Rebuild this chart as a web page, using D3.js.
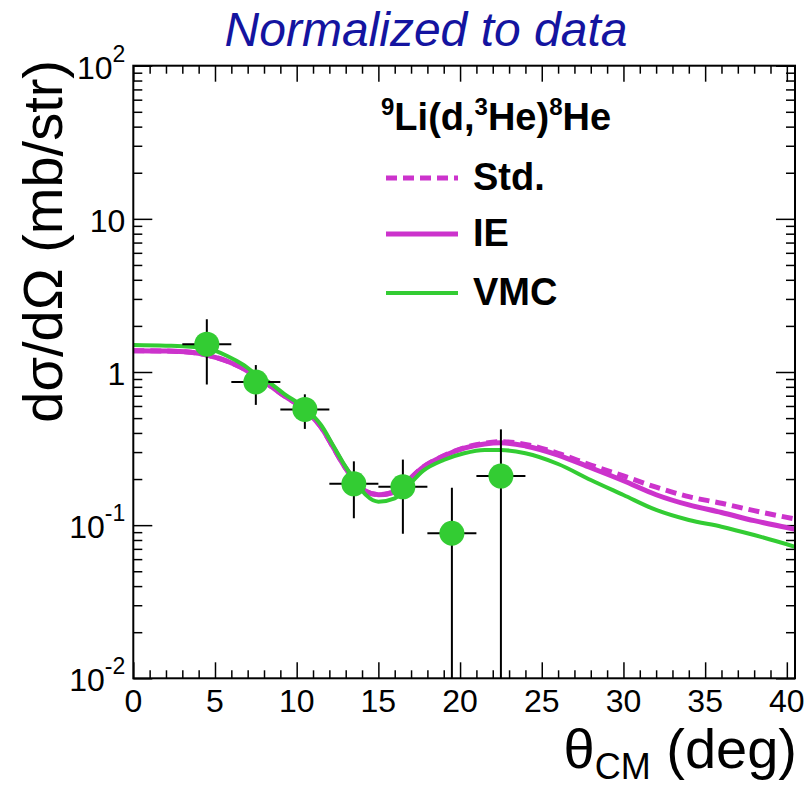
<!DOCTYPE html>
<html>
<head>
<meta charset="utf-8">
<script src="https://cdn.jsdelivr.net/npm/d3@7"></script>
<style>
  body { margin: 0; background: #fff; }
  svg text { font-family: "Liberation Sans", Arial, sans-serif; }
</style>
</head>
<body>
<svg id="chart" width="809" height="786"></svg>
<script>
// measured points (theta_cm in deg, cross section in mb/str)
var thetaData = [4.5, 7.5, 10.5, 13.5, 16.5, 19.5, 22.5];
var xsData    = [1.52, 0.86, 0.57, 0.186, 0.178, 0.0885, 0.209];
var xsErr     = [0.69, 0.25, 0.145, 0.075, 0.09, 0.087, 0.213];
var thetaErr  = [1.5, 1.5, 1.5, 1.5, 1.5, 1.5, 1.5];

// calculated curves
var thetaCurve = [0, 2, 3.5, 4.5, 5.75, 6.75, 7.5, 8.25, 9.25, 10.5, 11.5, 12.25, 13, 13.75, 14.25, 15,
                  16, 16.5, 17.75, 19, 20.25, 21.5, 22.5, 24, 26, 28, 30, 32, 34, 36, 38, 40.5];
var stdCurve = [1.378, 1.371, 1.345, 1.29, 1.175, 1.05, 0.93, 0.83, 0.697, 0.565, 0.435, 0.32, 0.235, 0.187, 0.166, 0.158,
                0.165, 0.182, 0.24, 0.284, 0.320, 0.343, 0.351, 0.337, 0.2945, 0.247, 0.2094, 0.177, 0.1534, 0.139, 0.1243, 0.1097];
var ieCurve  = [1.378, 1.371, 1.345, 1.29, 1.175, 1.05, 0.93, 0.83, 0.697, 0.565, 0.435, 0.32, 0.235, 0.187, 0.166, 0.158,
                0.165, 0.182, 0.24, 0.283, 0.318, 0.339, 0.345, 0.329, 0.287, 0.237, 0.195, 0.158, 0.1355, 0.121, 0.107, 0.094];
var vmcCurve = [1.50, 1.486, 1.464, 1.428, 1.272, 1.111, 0.97, 0.865, 0.718, 0.582, 0.449, 0.329, 0.24, 0.183, 0.157, 0.1424,
                0.1497, 0.166, 0.2268, 0.2663, 0.2945, 0.3095, 0.3095, 0.2945, 0.2507, 0.1972, 0.1573, 0.1256, 0.108, 0.0977, 0.0862, 0.0723];

// axis ticks
var xMajor = [0, 5, 10, 15, 20, 25, 30, 35, 40];
var xMinor = d3.range(0, 41).filter(function(v) { return v % 5 != 0; });
var yMajor = [0.01, 0.1, 1, 10, 100];
var yMinor = [0.01, 0.1, 1, 10].flatMap(function(d) { return [2,3,4,5,6,7,8,9].map(function(k) { return k * d; }); });
var yLabels = [["10", "-2"], ["10", "-1"], ["1", ""], ["10", ""], ["10", "2"]];

var legendItems = ["Std.", "IE", "VMC"];

var magenta = "#cc33cc", green = "#33cc33";

var margin = {top: 65.7, right: 14, bottom: 107.7, left: 133.3},
    width = 809 - margin.left - margin.right,
    height = 786 - margin.top - margin.bottom;

var svg = d3.select("#chart");
var g = svg.append("g").attr("transform", "translate(" + margin.left + "," + margin.top + ")");

var x = d3.scaleLinear().domain([0, 40.5]).range([0, width]);
var y = d3.scaleLog().domain([0.01, 100]).range([height, 0]);

svg.append("defs").append("clipPath").attr("id", "clip")
  .append("rect").attr("width", width).attr("height", height);

// ticks (all pointing inside, ROOT style)
function tickAxis(axisFn, scale, vals, size, transform) {
  var a = g.append("g").attr("transform", transform)
    .call(axisFn(scale).tickValues(vals).tickSize(size).tickFormat(""));
  a.select(".domain").remove();
  a.selectAll("line").attr("stroke", "#000").attr("stroke-width", 1.5);
  return a;
}
tickAxis(d3.axisBottom, x, xMajor, -16, "translate(0," + height + ")");
tickAxis(d3.axisBottom, x, xMinor, -8, "translate(0," + height + ")");
tickAxis(d3.axisTop, x, xMajor, -16, "translate(0,0)");
tickAxis(d3.axisTop, x, xMinor, -8, "translate(0,0)");
tickAxis(d3.axisLeft, y, yMajor, -19, "translate(0,0)");
tickAxis(d3.axisLeft, y, yMinor, -9, "translate(0,0)");
tickAxis(d3.axisRight, y, yMajor, -19, "translate(" + width + ",0)");
tickAxis(d3.axisRight, y, yMinor, -9, "translate(" + width + ",0)");

// x tick labels
g.selectAll(".xlab").data(xMajor).enter().append("text")
  .attr("x", function(d) { return x(d); })
  .attr("y", height + 34)
  .attr("text-anchor", "middle")
  .attr("font-size", 32)
  .text(function(d) { return d; });

// y tick labels with exponents
yMajor.forEach(function(v, i) {
  var t = g.append("text")
    .attr("x", -8).attr("y", y(v) + 13)
    .attr("text-anchor", "end")
    .attr("font-size", 32);
  t.append("tspan").text(yLabels[i][0]);
  if (yLabels[i][1]) {
    t.append("tspan").attr("font-size", 23).attr("dy", -17).text(yLabels[i][1]);
  }
});

// curves
var line = d3.line()
  .x(function(d) { return x(d[0]); })
  .y(function(d) { return y(d[1]); })
  .curve(d3.curveMonotoneX);
var plot = g.append("g").attr("clip-path", "url(#clip)");

plot.append("path").datum(d3.zip(thetaCurve, stdCurve))
  .attr("d", line).attr("fill", "none").attr("stroke", magenta)
  .attr("stroke-width", 5).attr("stroke-dasharray", "11,6");
plot.append("path").datum(d3.zip(thetaCurve, ieCurve))
  .attr("d", line).attr("fill", "none").attr("stroke", magenta).attr("stroke-width", 5);
plot.append("path").datum(d3.zip(thetaCurve, vmcCurve))
  .attr("d", line).attr("fill", "none").attr("stroke", green).attr("stroke-width", 4);

// data with error bars
var pts = d3.range(thetaData.length).map(function(i) {
  return {t: thetaData[i], v: xsData[i], dv: xsErr[i], dt: thetaErr[i]};
});
var bars = plot.append("g").attr("stroke", "#000").attr("stroke-width", 2);
bars.selectAll(".h").data(pts).enter().append("line")
  .attr("x1", function(d) { return x(d.t - d.dt); })
  .attr("x2", function(d) { return x(d.t + d.dt); })
  .attr("y1", function(d) { return y(d.v); })
  .attr("y2", function(d) { return y(d.v); });
bars.selectAll(".v").data(pts).enter().append("line")
  .attr("x1", function(d) { return x(d.t); })
  .attr("x2", function(d) { return x(d.t); })
  .attr("y1", function(d) { return y(d.v + d.dv); })
  .attr("y2", function(d) { return d.v - d.dv > 0.01 ? y(d.v - d.dv) : height; });
plot.selectAll(".pt").data(pts).enter().append("circle")
  .attr("cx", function(d) { return x(d.t); })
  .attr("cy", function(d) { return y(d.v); })
  .attr("r", 12.5)
  .attr("fill", green);

// frame
g.append("rect").attr("width", width).attr("height", height)
  .attr("fill", "none").attr("stroke", "#000").attr("stroke-width", 2);

// legend
var lg = svg.append("g").attr("font-weight", "bold").attr("font-size", 38);
var head = lg.append("text").attr("x", 381).attr("y", 130);
head.append("tspan").attr("font-size", 24).attr("dy", -15).text("9");
head.append("tspan").attr("dy", 15).text("Li(d,");
head.append("tspan").attr("font-size", 24).attr("dy", -15).text("3");
head.append("tspan").attr("dy", 15).text("He)");
head.append("tspan").attr("font-size", 24).attr("dy", -15).text("8");
head.append("tspan").attr("dy", 15).text("He");

var legY = [178, 234, 293];
var legStyle = [[magenta, "11,6", 5], [magenta, null, 5], [green, null, 4]];
legendItems.forEach(function(name, i) {
  lg.append("line").attr("x1", 386).attr("x2", 458)
    .attr("y1", legY[i]).attr("y2", legY[i])
    .attr("stroke", legStyle[i][0]).attr("stroke-width", legStyle[i][2])
    .attr("stroke-dasharray", legStyle[i][1]);
  lg.append("text").attr("x", 473).attr("y", legY[i] + 12).text(name);
});

// titles
svg.append("text").attr("x", 426).attr("y", 46)
  .attr("text-anchor", "middle").attr("font-size", 48).attr("font-style", "italic")
  .attr("fill", "#1414a0").text("Normalized to data");

svg.append("text")
  .attr("transform", "translate(62,60) rotate(-90)")
  .attr("text-anchor", "end").attr("font-size", 56)
  .text("dσ/dΩ (mb/str)");

var xt = svg.append("text").attr("x", 797).attr("y", 768)
  .attr("text-anchor", "end").attr("font-size", 56);
xt.append("tspan").text("θ");
xt.append("tspan").attr("font-size", 36).attr("dy", 11).text("CM");
xt.append("tspan").attr("dy", -11).text(" (deg)");
</script>
</body>
</html>
